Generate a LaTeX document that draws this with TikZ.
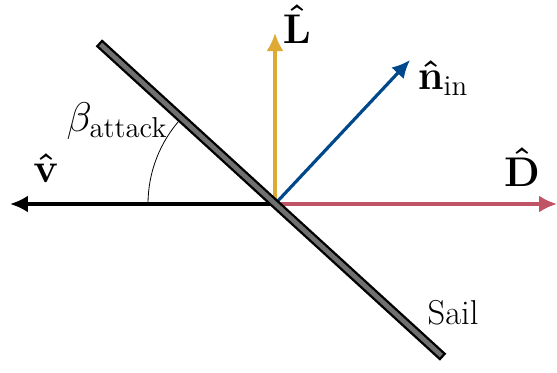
\documentclass[tikz,border=0pt]{standalone}
\usepackage{amsmath}
\usetikzlibrary{positioning,arrows.meta}
\definecolor{LiftGold}{RGB}{222,170,52}
\definecolor{NormBlue}{RGB}{0,72,140}
\definecolor{DragRed}{RGB}{192,84,102}
\definecolor{SailGray}{RGB}{112,112,112}
\tikzset{>={Latex[length=9pt,width=8.5pt]}}
\tikzset{myvec/.style={->,line width=1.6pt}}
\tikzset{mylabels/.style={font=\huge,inner sep=1pt}}
\tikzset{mysail/.style={draw=black,fill=SailGray,line width=1.1pt,minimum width=232pt,minimum height=3.6pt,inner sep=0pt,rotate=-42.4}}

\begin{document}
\begin{tikzpicture}[x=0.5pt,y=0.5pt]
        \useasboundingbox (-275,-168) rectangle (282,204);
        \coordinate (o) at (0,0);
        \coordinate (vt) at (-265,0);
        \coordinate (dt) at (282,0);
        \coordinate (lt) at (0,171);
        \coordinate (nt) at (135,144);
        \draw[myvec] (o) -- (vt);
        \draw[myvec,DragRed] (o) -- (dt);
        \draw[myvec,LiftGold] (o) -- (lt);
        \draw[myvec,NormBlue] (o) -- (nt);
        \draw[thin] (-127,0) arc[start angle=180,end angle=137.6,radius=127];
        \node[mysail](sail) at (-4,4) {};
        \node[mylabels](vlab) at (-229,36) {$\boldsymbol{\hat{\mathbf{v}}}$};
        \node[mylabels](blab) at (-158,83) {$\beta_{\text{attack}}$};
        \node[mylabels](llab) at (22,180) {$\boldsymbol{\hat{\mathbf{L}}}$};
        \node[mylabels](nlab) at (168,126) {$\boldsymbol{\hat{\mathbf{n}}}_{\text{in}}$};
        \node[mylabels](dlab) at (247,37) {$\boldsymbol{\hat{\mathbf{D}}}$};
        \node[mylabels,font=\LARGE](slab) at (178,-109) {Sail};
    \end{tikzpicture}
\end{document}
